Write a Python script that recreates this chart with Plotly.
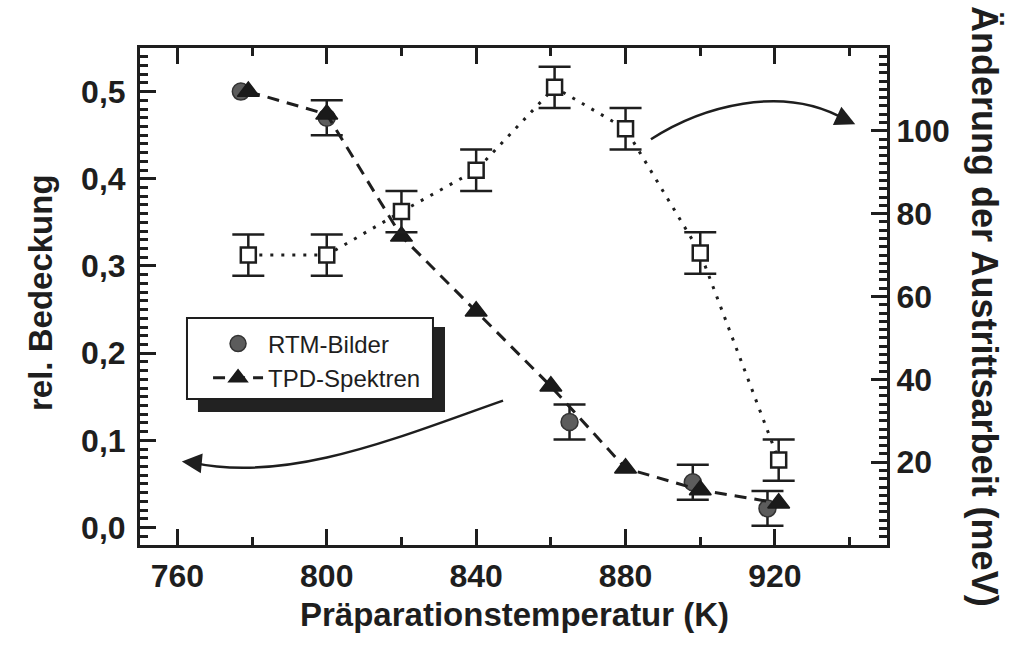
import numpy as np
import plotly.graph_objects as go

# ---------------- data ----------------
RTM_T = [777, 800, 865, 898, 918]
RTM_COV = [0.50, 0.47, 0.121, 0.052, 0.022]
RTM_ERR = [np.nan, 0.02, 0.02, 0.02, 0.02]

TPD_T = [779, 800, 820, 840, 860, 880, 900, 921]
TPD_COV = [0.50, 0.474, 0.334, 0.248, 0.162, 0.068, 0.043, 0.028]

WF_T = [779, 800, 820, 840, 861, 880, 900, 921]
WF_MEV = [70, 70, 80.5, 90.5, 110.5, 100.5, 70.5, 20.5]
WF_ERR = [5, 5, 5, 5, 5, 5, 5, 5]

X_TICKS = [760, 800, 840, 880, 920]
Y_TICKS = [0.0, 0.1, 0.2, 0.3, 0.4, 0.5]
R_TICKS = [20, 40, 60, 80, 100]

X_TITLE = "Präparationstemperatur (K)"
Y_TITLE = "rel. Bedeckung"
Y2_TITLE = "Änderung der Austrittsarbeit (meV)"

INK = "#1e1e1e"
FONT = "Liberation Sans, Arial, Helvetica, sans-serif"

fig = go.Figure()

fig.add_trace(go.Scatter(
    x=RTM_T, y=RTM_COV, mode="markers", name="RTM-Bilder",
    marker=dict(symbol="circle", size=17, color="#5c5c5c",
                line=dict(color="#333333", width=1.5)),
    error_y=dict(type="data", array=np.array(RTM_ERR, dtype=float), visible=True,
                 color=INK, thickness=2.5, width=16),
))

fig.add_trace(go.Scatter(
    x=TPD_T, y=TPD_COV, mode="lines+markers", name="TPD-Spektren",
    line=dict(color=INK, width=3, dash="12px,8px"),
    marker=dict(symbol="triangle-up", size=19, color="#1a1a1a",
                line=dict(color="#1a1a1a", width=1.5)),
))

fig.add_trace(go.Scatter(
    x=WF_T, y=WF_MEV, mode="lines+markers", name="Austrittsarbeit",
    yaxis="y2", showlegend=False,
    line=dict(color=INK, width=3, dash="3px,8px"),
    marker=dict(symbol="square", size=15, color="white",
                line=dict(color=INK, width=2.5)),
    error_y=dict(type="data", array=WF_ERR, visible=True,
                 color=INK, thickness=2.5, width=16),
))

# curved arrows (annotation graphics)
arrow_paths = [
    "M 847.2,0.1456 C 820,0.105 790,0.05 764,0.0745",
    "M 886.8,0.4453 C 900,0.482 922,0.510 939,0.4675",
]
shapes = []
for p in arrow_paths:
    shapes.append(dict(type="path", path=p, xref="x", yref="y",
                       line=dict(color=INK, width=2.5), layer="above"))

# legend shadow and box
shapes.append(dict(type="rect", xref="paper", yref="paper",
                   x0=0.0776, x1=0.4083, y0=0.2676, y1=0.4386,
                   fillcolor="#222222", line=dict(width=0), layer="above"))
shapes.append(dict(type="rect", xref="paper", yref="paper",
                   x0=0.0629, x1=0.3922, y0=0.2938, y1=0.4567,
                   fillcolor="white", line=dict(color=INK, width=2), layer="above"))

annotations = [
    dict(x=761.2, y=0.0757, ax=766, ay=0.0738, xref="x", yref="y",
         axref="x", ayref="y", showarrow=True, arrowhead=2, arrowsize=1.6,
         arrowwidth=2.5, arrowcolor=INK, text=""),
    dict(x=941.5, y=0.4625, ax=938, ay=0.4695, xref="x", yref="y",
         axref="x", ayref="y", showarrow=True, arrowhead=2, arrowsize=1.6,
         arrowwidth=2.5, arrowcolor=INK, text=""),
    dict(text=X_TITLE, x=0.502, y=-0.1408, xref="paper", yref="paper",
         xanchor="center", yanchor="middle", showarrow=False,
         font=dict(family=FONT, size=33, color=INK, weight="bold")),
    dict(text=Y_TITLE, x=-0.1339, y=0.509, xref="paper", yref="paper",
         xanchor="center", yanchor="middle", showarrow=False, textangle=-90,
         font=dict(family=FONT, size=33, color=INK, weight="bold")),
    dict(text=Y2_TITLE, x=1.1299, y=0.481, xref="paper", yref="paper",
         xanchor="center", yanchor="middle", showarrow=False, textangle=90,
         font=dict(family=FONT, size=36, color=INK, weight="bold")),
]

tick_font = dict(family=FONT, size=32, color=INK, weight="bold")

fig.update_layout(
    width=1009, height=648,
    margin=dict(l=140, r=122, t=48, b=103),
    paper_bgcolor="white", plot_bgcolor="white",
    separators=",.",
    showlegend=True,
    legend=dict(x=0.0911, y=0.4497, xanchor="left", yanchor="top",
                bgcolor="rgba(0,0,0,0)", borderwidth=0,
                font=dict(family=FONT, size=24, color=INK),
                itemwidth=50, tracegroupgap=0),
    shapes=shapes,
    annotations=annotations,
    xaxis=dict(
        range=[750, 950], tickmode="array", tickvals=X_TICKS,
        ticks="inside", ticklen=16, tickwidth=3, tickcolor=INK,
        minor=dict(tickmode="linear", tick0=760, dtick=20, ticks="inside",
                   ticklen=8, tickwidth=3, tickcolor=INK),
        showline=True, linewidth=3, linecolor=INK, mirror="ticks",
        showgrid=False, zeroline=False, automargin=False,
        tickfont=tick_font, ticklabelstandoff=1,
    ),
    yaxis=dict(
        range=[-0.02, 0.55], tickmode="array", tickvals=Y_TICKS, tickformat=".1f",
        ticks="inside", ticklen=16, tickwidth=3, tickcolor=INK,
        minor=dict(tickmode="linear", tick0=0, dtick=0.01, ticks="inside",
                   ticklen=8, tickwidth=3, tickcolor=INK),
        showline=True, linewidth=3, linecolor=INK, mirror=False,
        showgrid=False, zeroline=False, automargin=False,
        tickfont=tick_font, ticklabelstandoff=5,
    ),
    yaxis2=dict(
        range=[0, 120], overlaying="y", side="right",
        tickmode="array", tickvals=R_TICKS,
        ticks="inside", ticklen=16, tickwidth=3, tickcolor=INK,
        minor=dict(tickmode="linear", tick0=0, dtick=2, ticks="inside",
                   ticklen=8, tickwidth=3, tickcolor=INK),
        showline=True, linewidth=3, linecolor=INK,
        showgrid=False, zeroline=False, automargin=False,
        tickfont=tick_font, ticklabelstandoff=0,
    ),
)

fig.write_html("out.html",
               config={"displayModeBar": False},
               post_script="document.body.style.margin='0';document.body.style.overflow='hidden';")
